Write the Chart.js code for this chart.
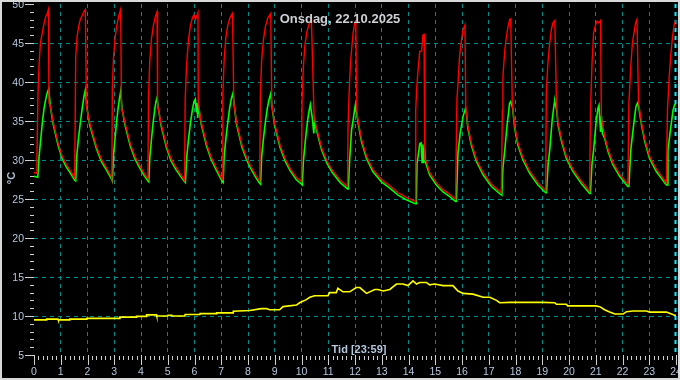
<!DOCTYPE html>
<html><head><meta charset="utf-8">
<script src="https://cdn.jsdelivr.net/npm/chart.js@4.4.0/dist/chart.umd.min.js"></script>
<style>html,body{margin:0;padding:0;background:#000;}canvas{display:block;}</style>
</head><body>
<canvas id="c" width="680" height="380"></canvas>
<script>
const chartTitle = 'Onsdag, 22.10.2025';
const xAxisTitle = 'Tid [23:59]';
const yAxisTitle = '°C';
const xTickLabels = ['0','1','2','3','4','5','6','7','8','9','10','11','12','13','14','15','16','17','18','19','20','21','22','23','24'];
const yTickValues = [5,10,15,20,25,30,35,40,45,50];

const redTime = [
0.00,0.10,0.11,0.15,0.19,0.24,0.31,0.37,0.44,0.49,0.54,0.56,0.61,0.71,0.90,1.05,1.21,1.40,1.52,
1.56,1.61,1.67,1.73,1.81,1.86,1.92,1.96,2.08,2.33,2.52,2.71,2.89,2.91,
2.93,2.97,3.03,3.10,3.17,3.24,3.27,3.40,3.60,3.78,3.95,4.12,4.26,
4.28,4.33,4.39,4.46,4.53,4.60,4.62,4.75,4.95,5.12,5.30,5.48,5.63,
5.65,5.70,5.77,5.85,5.93,5.98,6.04,6.13,6.14,6.25,6.45,6.62,6.80,6.95,7.04,
7.06,7.11,7.17,7.24,7.32,7.42,7.47,7.57,7.77,7.95,8.12,8.30,8.44,
8.46,8.51,8.58,8.65,8.74,8.85,8.89,8.99,9.20,9.40,9.58,9.80,10.00,
10.02,10.07,10.13,10.20,10.28,10.37,10.47,10.55,10.75,10.95,11.15,11.45,11.72,
11.74,11.78,11.83,11.89,11.93,11.99,12.03,12.06,12.11,12.24,12.43,12.67,12.99,13.30,13.61,13.92,14.25,
14.27,14.31,14.36,14.42,14.49,14.54,14.58,14.61,14.67,14.79,15.04,15.29,15.54,15.76,
15.81,15.85,15.91,15.98,16.04,16.11,16.14,16.22,16.35,16.54,16.79,17.10,17.41,17.47,
17.51,17.53,17.60,17.66,17.72,17.78,17.82,17.88,17.97,18.09,18.28,18.53,18.84,19.13,
19.15,19.21,19.28,19.34,19.40,19.47,19.53,19.59,19.72,19.90,20.15,20.46,20.77,
20.80,20.86,20.92,20.99,21.05,21.12,21.18,21.21,21.33,21.46,21.64,21.89,22.20,
22.24,22.31,22.37,22.43,22.49,22.54,22.60,22.71,22.83,23.01,23.27,23.64,
23.68,23.74,23.80,23.87,23.93,24.00];
const redTemp = [
28.4,28.3,30.4,38.6,42.3,45.0,46.3,47.4,48.4,48.7,49.3,37.3,37.0,35.0,32.2,30.5,29.4,28.4,27.7,
43.3,45.8,47.1,48.0,48.6,49.0,49.3,36.9,34.8,31.8,30.1,29.0,27.9,27.6,
39.5,43.0,45.6,47.3,48.5,49.3,36.8,34.8,32.1,30.4,29.3,28.3,27.6,
38.0,42.8,45.5,47.2,48.3,49.0,37.1,34.7,31.9,30.2,29.1,28.2,27.4,
37.5,42.0,45.2,47.3,48.3,48.6,48.0,48.9,37.4,34.9,32.1,30.4,29.1,28.1,27.5,
38.5,43.0,45.6,47.2,48.2,48.8,37.3,34.9,32.0,30.3,29.1,28.0,27.3,
38.0,42.8,45.5,47.1,48.2,48.8,37.1,34.8,31.9,30.1,28.9,27.8,27.2,
37.5,42.0,44.8,46.4,47.4,48.0,35.6,34.3,31.6,29.9,28.7,27.4,26.6,
34.3,38.6,42.4,44.8,46.3,47.6,47.8,36.5,35.2,32.7,30.5,28.8,27.5,26.7,25.8,25.2,24.7,
36.4,39.4,41.6,43.9,44.0,46.0,46.1,30.1,29.8,28.4,27.1,26.2,25.6,25.0,
37.7,39.8,43.3,45.4,46.7,47.3,36.9,34.4,32.2,30.1,28.4,26.9,26.0,25.8,
36.4,40.7,44.1,45.8,47.1,48.0,48.1,37.3,34.4,32.2,30.3,28.6,27.1,26.1,
38.6,42.4,45.0,46.7,47.6,47.9,37.4,34.8,32.7,30.5,28.8,27.3,26.0,
36.0,42.4,46.3,47.3,47.8,47.6,47.9,35.5,33.1,31.4,29.7,28.2,26.9,
37.3,42.0,45.0,46.3,47.6,48.0,37.4,34.8,32.7,30.5,28.8,27.1,
36.4,40.3,43.3,45.8,47.3,48.0];

const greenTime = [
0.00,0.14,0.19,0.25,0.31,0.37,0.44,0.50,0.55,0.61,0.71,0.90,1.05,1.21,1.40,1.52,1.56,
1.60,1.67,1.74,1.81,1.87,1.92,1.98,2.08,2.33,2.52,2.71,2.89,2.93,
2.97,3.03,3.09,3.15,3.20,3.24,3.29,3.40,3.60,3.78,3.95,4.12,4.26,4.29,
4.33,4.39,4.45,4.51,4.56,4.60,4.64,4.75,4.95,5.12,5.30,5.48,5.63,5.66,
5.71,5.78,5.85,5.92,5.98,6.03,6.07,6.09,6.12,6.15,6.25,6.45,6.62,6.80,6.95,7.04,7.07,
7.11,7.18,7.25,7.32,7.38,7.44,7.49,7.57,7.77,7.95,8.12,8.30,8.44,8.47,
8.51,8.58,8.65,8.72,8.79,8.85,8.90,8.99,9.20,9.40,9.58,9.80,10.00,10.03,
10.07,10.13,10.19,10.25,10.30,10.33,10.40,10.46,10.49,10.55,10.75,10.95,11.15,11.45,11.72,11.75,
11.80,11.87,11.93,11.99,12.01,12.05,12.11,12.24,12.43,12.67,12.99,13.30,13.61,13.92,14.25,14.29,
14.32,14.36,14.42,14.47,14.51,14.54,14.57,14.60,14.64,14.79,15.04,15.29,15.54,15.76,15.79,
15.85,15.93,16.04,16.13,16.16,16.22,16.35,16.54,16.79,17.10,17.41,17.49,
17.53,17.60,17.68,17.78,17.82,17.89,17.97,18.09,18.28,18.53,18.84,19.13,19.16,
19.22,19.28,19.37,19.45,19.47,19.54,19.59,19.72,19.90,20.15,20.46,20.77,20.80,
20.86,20.92,21.01,21.08,21.12,21.18,21.21,21.25,21.33,21.46,21.64,21.89,22.20,22.24,
22.31,22.41,22.50,22.56,22.60,22.71,22.83,23.01,23.27,23.64,23.67,
23.70,23.79,23.89,23.95,24.00];
const greenTemp = [
27.9,27.8,30.4,32.6,34.7,36.5,37.8,38.7,39.1,36.9,34.7,31.9,30.2,29.1,28.1,27.4,27.3,
30.6,33.0,35.0,36.8,38.2,39.0,36.7,34.5,31.5,29.8,28.7,27.6,27.3,
30.5,32.8,35.0,36.8,38.0,38.8,36.6,34.5,31.8,30.1,29.0,28.0,27.3,27.2,
30.3,32.6,34.7,36.4,37.5,38.0,36.8,34.4,31.6,29.9,28.8,27.9,27.2,27.1,
30.4,32.8,34.8,36.4,37.5,37.8,36.2,37.3,35.4,36.9,34.6,31.8,30.1,28.8,27.8,27.2,27.1,
30.5,33.0,35.0,36.8,37.9,38.6,36.9,34.6,31.7,30.0,28.8,27.7,27.0,26.9,
30.4,32.8,34.9,36.6,37.8,38.5,36.8,34.5,31.6,29.8,28.6,27.5,26.9,26.8,
29.8,32.0,34.0,35.6,36.6,37.1,35.5,33.4,35.0,34.0,31.3,29.6,28.4,27.1,26.3,26.3,
30.0,33.8,35.1,36.6,37.0,36.2,34.9,32.4,30.2,28.5,27.2,26.4,25.5,24.9,24.4,24.4,
29.6,30.5,32.1,32.2,29.7,32.0,29.6,31.5,29.7,28.1,26.8,25.9,25.3,24.7,24.7,
30.9,33.4,35.6,36.6,36.1,34.1,31.9,29.8,28.1,26.6,25.7,25.5,
29.0,31.3,34.3,37.3,37.5,36.7,34.1,31.9,30.0,28.3,26.8,25.8,25.8,
29.5,31.3,35.1,37.3,37.5,36.4,34.5,32.4,30.2,28.5,27.0,25.7,25.7,
29.5,31.3,34.7,36.6,37.0,33.6,35.7,33.4,32.8,31.1,29.4,27.9,26.6,26.6,
31.3,34.3,36.8,37.3,36.9,34.5,32.4,30.2,28.5,26.8,26.8,
31.3,33.8,36.4,37.1,37.2];

const yellowTime = [
0.00,0.46,0.47,0.90,0.91,1.33,1.34,1.96,1.97,3.20,3.21,3.82,3.83,4.20,4.21,4.58,4.59,5.00,5.01,5.15,5.16,5.64,5.65,6.20,6.21,6.82,6.83,7.44,7.45,8.07,
8.50,8.69,8.81,9.18,9.31,9.81,9.93,10.18,10.31,10.49,10.99,11.05,11.30,11.36,11.55,11.80,12.05,12.18,12.43,12.74,12.86,13.05,13.30,13.55,13.79,13.98,
14.17,14.30,14.42,14.67,14.79,14.98,15.29,15.66,15.85,16.04,16.41,16.79,17.04,17.29,17.41,17.78,19.02,19.47,19.53,19.90,19.95,21.00,21.15,21.33,
21.52,21.72,22.02,22.15,22.39,22.89,23.02,23.64,23.76,23.95,24.00];
const yellowTemp = [
9.5,9.5,9.6,9.6,9.5,9.5,9.6,9.6,9.7,9.7,9.85,9.85,9.95,9.95,10.15,10.15,10.0,10.0,10.1,10.1,10.0,10.0,10.2,10.2,10.3,10.3,10.4,10.4,10.6,10.7,
10.95,10.95,10.8,10.8,11.2,11.4,11.7,12.1,12.4,12.6,12.6,13.0,13.0,13.55,13.1,13.1,13.65,13.65,12.9,13.4,13.4,13.2,13.4,14.1,14.1,13.9,
14.5,14.1,14.3,14.3,14.0,14.1,13.9,13.9,13.2,12.9,12.8,12.4,12.4,12.0,11.7,11.75,11.75,11.7,11.5,11.5,11.3,11.3,11.2,10.8,
10.5,10.25,10.25,10.55,10.65,10.65,10.5,10.5,10.35,10.1,10.1];

const pts = (ts, vs) => ts.map((t, i) => ({x: t, y: vs[i]}));
const GRID = '#008b8b';
const LABEL = '#b4c8de';
const TICK = '#d0d0d0';
const FONT = '"Liberation Sans", Arial, sans-serif';

const decor = {
  id: 'decor',
  beforeDraw(chart) {
    const c = chart.ctx;
    c.save(); c.fillStyle = '#000'; c.fillRect(0, 0, chart.width, chart.height); c.restore();
  },
  beforeDatasetsDraw(chart) {
    const c = chart.ctx, xs = chart.scales.x, a = chart.chartArea;
    const x24 = xs.getPixelForValue(24);
    c.save();
    c.strokeStyle = '#00f0ff'; c.lineWidth = 2; c.setLineDash([4, 4]);
    c.beginPath(); c.moveTo(x24 - 0.5, a.top); c.lineTo(x24 - 0.5, a.bottom); c.stroke();
    c.restore();
  },
  afterDraw(chart) {
    const c = chart.ctx, xs = chart.scales.x, ys = chart.scales.y, a = chart.chartArea;
    c.save();
    c.strokeStyle = TICK; c.lineWidth = 1;
    c.beginPath();
    for (let v = 5; v <= 50; v++) {
      const y = Math.round(ys.getPixelForValue(v)) + 0.5;
      const major = v % 5 === 0;
      c.moveTo(major ? a.left - 9 : a.left - 4, y); c.lineTo(a.left, y);
    }
    for (let m = 0; m <= 24 * 6; m++) {
      const x = Math.round(xs.getPixelForValue(m / 6)) + 0.5;
      const major = m % 6 === 0;
      c.moveTo(x, a.bottom + (major ? 0 : 1)); c.lineTo(x, a.bottom + (major ? 10 : 5));
    }
    c.stroke();
    c.fillStyle = LABEL;
    c.font = '10.5px ' + FONT;
    c.textAlign = 'right'; c.textBaseline = 'alphabetic';
    yTickValues.forEach(v => c.fillText(String(v), a.left - 10, ys.getPixelForValue(v) + 3.8));
    c.textAlign = 'center';
    xTickLabels.forEach((l, i) => c.fillText(l, xs.getPixelForValue(i), a.bottom + 19.5));
    c.font = 'bold 11px ' + FONT;
    c.fillText(xAxisTitle, (a.left + a.right) / 2 + 4, a.bottom - 1.8);
    c.save(); c.translate(15, 178); c.rotate(-Math.PI / 2);
    c.fillText(yAxisTitle, 0, 0); c.restore();
    c.fillStyle = '#cdd0d4';
    c.font = 'bold 13px ' + FONT;
    c.fillText(chartTitle, chart.width / 2, 22.5);
    c.strokeStyle = '#d8d8d8'; c.lineWidth = 2;
    c.strokeRect(1, 1, chart.width - 2, chart.height - 2);
    c.restore();
  }
};

new Chart(document.getElementById('c'), {
  type: 'line',
  data: {
    datasets: [
      {label: 'red', data: pts(redTime, redTemp), borderColor: '#ff0000', borderWidth: 1.4, order: 0},
      {label: 'green', data: pts(greenTime, greenTemp), borderColor: '#00ff00', borderWidth: 1.6, order: 1},
      {label: 'yellow', data: pts(yellowTime, yellowTemp), borderColor: '#ffff00', borderWidth: 1.6, order: 2}
    ]
  },
  options: {
    responsive: false, animation: false, devicePixelRatio: 1,
    layout: {padding: {left: 34, right: 4, top: 4, bottom: 25}},
    elements: {point: {radius: 0}, line: {tension: 0}},
    plugins: {legend: {display: false}, tooltip: {enabled: false}, title: {display: false}},
    scales: {
      x: {type: 'linear', min: 0, max: 24,
          ticks: {display: false, stepSize: 1},
          grid: {drawTicks: false, lineWidth: 1, color: ctx => (ctx.tick && (ctx.tick.value === 0 || ctx.tick.value === 24)) ? 'rgba(0,0,0,0)' : GRID},
          border: {display: false, dash: [4, 4]}},
      y: {type: 'linear', min: 5, max: 50,
          ticks: {display: false, stepSize: 5},
          grid: {drawTicks: false, lineWidth: 1, color: ctx => (ctx.tick && (ctx.tick.value === 5 || ctx.tick.value === 50)) ? 'rgba(0,0,0,0)' : GRID},
          border: {display: false, dash: [4, 4]}}
    }
  },
  plugins: [decor]
});
</script>
</body></html>
